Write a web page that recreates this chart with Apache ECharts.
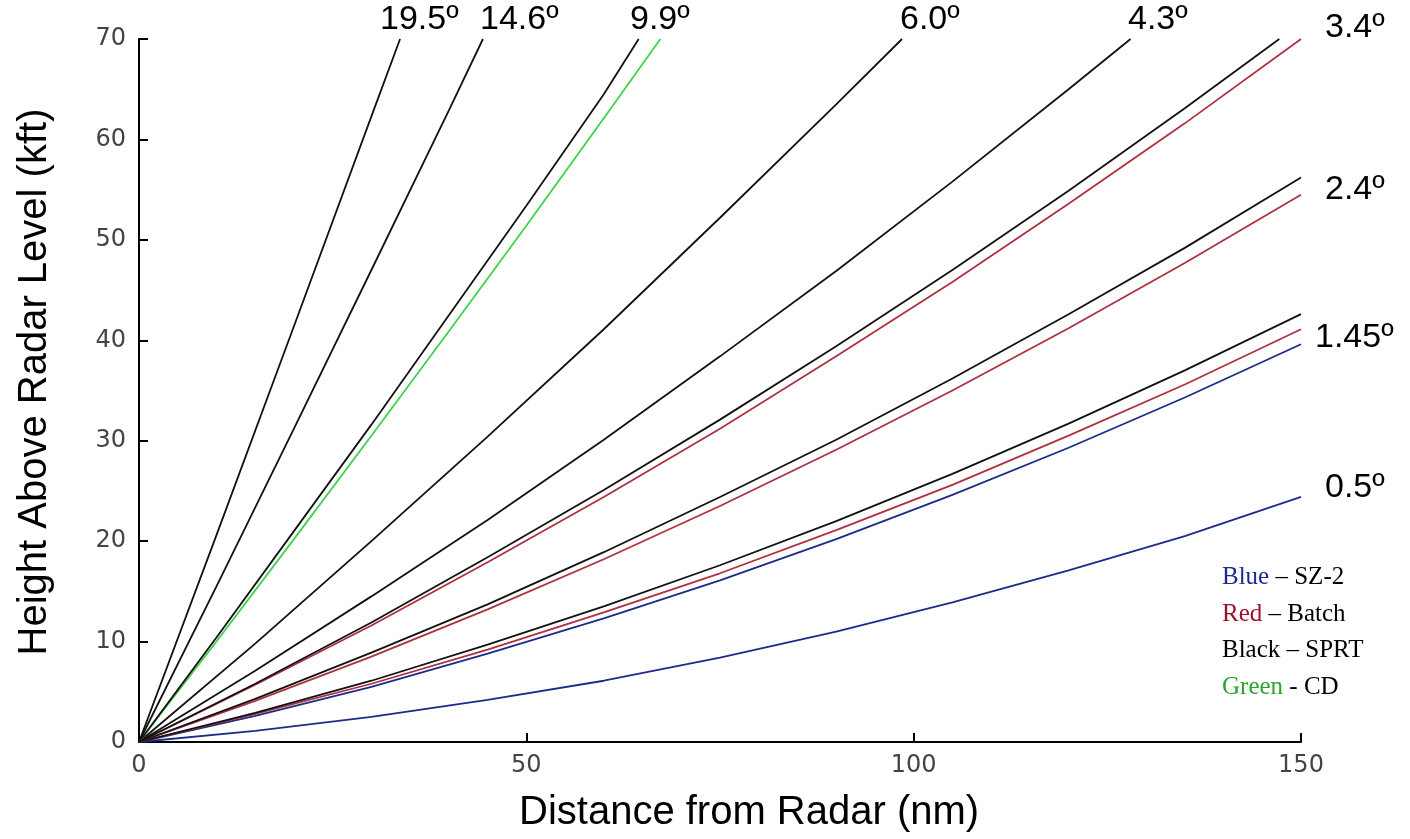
<!DOCTYPE html>
<html>
<head>
<meta charset="utf-8">
<script src="https://cdn.jsdelivr.net/npm/echarts@6/dist/echarts.min.js"></script>
<style>html,body{margin:0;padding:0;background:#fff}#c{width:1410px;height:839px}</style>
</head>
<body>
<div id="c"></div>
<script>
// Distances (nm) for the long beams and their heights (kft)
const xLong = [0, 15, 30, 45, 60, 75, 90, 105, 120, 135, 150];
const sz2_05   = [0, 1.1, 2.5, 4.2, 6.1, 8.4, 11.0, 13.9, 17.1, 20.5, 24.4];
const sz2_145  = [0, 2.6, 5.5, 8.8, 12.3, 16.1, 20.2, 24.6, 29.3, 34.3, 39.6];
const batch_145= [0, 2.8, 5.8, 9.2, 12.9, 16.8, 21.1, 25.6, 30.5, 35.6, 41.1];
const sprt_145 = [0, 2.9, 6.1, 9.7, 13.5, 17.6, 22.0, 26.7, 31.7, 37.0, 42.6];
const sprt_24  = [0, 4.3, 8.9, 13.7, 18.9, 24.4, 30.1, 36.2, 42.6, 49.2, 56.2];
const batch_24 = [0, 4.1, 8.5, 13.2, 18.2, 23.5, 29.1, 35.0, 41.2, 47.7, 54.5];
const batch_34 = [0, 5.7, 11.6, 17.9, 24.4, 31.2, 38.4, 45.8, 53.6, 61.6, 70.0];
const x34 = [0, 15, 30, 45, 60, 75, 90, 105, 120, 135, 147.2];
const sprt_34  = [0, 5.8, 11.9, 18.4, 25.1, 32.1, 39.4, 47.0, 54.9, 63.1, 70.0];
const x43 = [0, 15, 30, 45, 60, 75, 90, 105, 120, 128];
const sprt_43  = [0, 7.1, 14.5, 22.1, 30.1, 38.4, 46.9, 55.8, 65.0, 70.0];
const x60 = [0, 15, 30, 45, 60, 75, 90, 98.5];
const sprt_60  = [0, 9.8, 20.0, 30.4, 41.1, 52.2, 63.5, 70.0];
const x99 = [0, 10, 20, 30, 40, 50, 60, 64.5];
const sprt_99  = [0, 10.4, 21.0, 31.6, 42.5, 53.4, 64.5, 70.0];
const xCd99 = [0, 10, 20, 30, 40, 50, 60, 67.3];
const cd_99    = [0, 10.0, 20.2, 30.5, 40.9, 51.4, 62.1, 70.0];
const x146 = [0, 10, 20, 30, 40, 44.4];
const sprt_146 = [0, 15.5, 31.2, 47.0, 62.9, 70.0];
const x195 = [0, 10, 20, 30, 33.7];
const sprt_195 = [0, 20.6, 41.4, 62.3, 70.0];

const xTicks = [0, 50, 100, 150];
const yTicks = [0, 10, 20, 30, 40, 50, 60, 70];
const angleLabels = ['19.5º', '14.6º', '9.9º', '6.0º', '4.3º', '3.4º', '2.4º', '1.45º', '0.5º'];

const BLACK = '#111111', RED = '#b03040', BLUE = '#1c2a8c', GREEN = '#3fd24a';

function pairs(xs, ys) { return xs.map((x, i) => [x, ys[i]]); }
function line(name, xs, ys, color) {
  return {
    name: name, type: 'line', data: pairs(xs, ys), symbol: 'none',
    lineStyle: { color: color, width: 1.8 }, itemStyle: { color: color },
    animation: false, silent: true
  };
}

const chart = echarts.init(document.getElementById('c'));
const angPos = [
  [380, 22], [480, 22], [630, 22], [900, 22], [1128, 22],
  [1325, 30], [1325, 192], [1315, 340], [1325, 490]
];
const graphics = angleLabels.map((t, i) => ({
  type: 'text', left: angPos[i][0], top: angPos[i][1] - 19,
  style: { text: t, font: '34px "Liberation Sans", Arial, sans-serif', fill: '#000' }
}));
graphics.push({
  type: 'text', left: 519, top: 793,
  style: { text: 'Distance from Radar (nm)', font: '40px "Liberation Sans", Arial, sans-serif', fill: '#000' }
});
graphics.push({
  type: 'text', x: 35, y: 382, rotation: Math.PI / 2,
  style: { text: 'Height Above Radar Level (kft)', font: '40px "Liberation Sans", Arial, sans-serif', fill: '#000', align: 'center', verticalAlign: 'middle' }
});
const legendRows = [
  ['Blue', BLUE, ' – SZ-2', 580],
  ['Red', '#a0102a', ' – Batch', 617],
  ['Black', '#000', ' – SPRT', 653],
  ['Green', '#2aa52a', ' - CD', 690]
];
legendRows.forEach(r => {
  graphics.push({
    type: 'text', left: 1222, top: r[3] - 15,
    style: {
      text: '{c|' + r[0] + '}{k|' + r[2] + '}',
      rich: {
        c: { fill: r[1], font: '25px "Liberation Serif", "Times New Roman", serif' },
        k: { fill: '#000', font: '25px "Liberation Serif", "Times New Roman", serif' }
      }
    }
  });
});

chart.setOption({
  backgroundColor: '#fff',
  animation: false,
  grid: { left: 139, right: 109, top: 39, bottom: 97, containLabel: false },
  xAxis: {
    type: 'value', min: xTicks[0], max: xTicks[xTicks.length - 1], interval: 50,
    axisLine: { show: true, lineStyle: { color: '#000', width: 2 } },
    axisTick: { show: true, inside: true, length: 9, lineStyle: { color: '#000', width: 2 } },
    axisLabel: { fontSize: 24, color: '#444', margin: 12, fontFamily: '"DejaVu Sans", sans-serif' },
    splitLine: { show: false }
  },
  yAxis: {
    type: 'value', min: yTicks[0], max: yTicks[yTicks.length - 1], interval: 10,
    axisLine: { show: true, lineStyle: { color: '#000', width: 2 } },
    axisTick: { show: true, inside: true, length: 9, lineStyle: { color: '#000', width: 2 } },
    axisLabel: { fontSize: 24, color: '#444', margin: 13, fontFamily: '"DejaVu Sans", sans-serif' },
    splitLine: { show: false }
  },
  series: [
    line('SZ-2 0.5', xLong, sz2_05, BLUE),
    line('SZ-2 1.45', xLong, sz2_145, BLUE),
    line('Batch 1.45', xLong, batch_145, RED),
    line('SPRT 1.45', xLong, sprt_145, BLACK),
    line('Batch 2.4', xLong, batch_24, RED),
    line('SPRT 2.4', xLong, sprt_24, BLACK),
    line('Batch 3.4', xLong, batch_34, RED),
    line('SPRT 3.4', x34, sprt_34, BLACK),
    line('SPRT 4.3', x43, sprt_43, BLACK),
    line('SPRT 6.0', x60, sprt_60, BLACK),
    line('CD 9.9', xCd99, cd_99, GREEN),
    line('SPRT 9.9', x99, sprt_99, BLACK),
    line('SPRT 14.6', x146, sprt_146, BLACK),
    line('SPRT 19.5', x195, sprt_195, BLACK)
  ],
  graphic: graphics
});
</script>
</body>
</html>
